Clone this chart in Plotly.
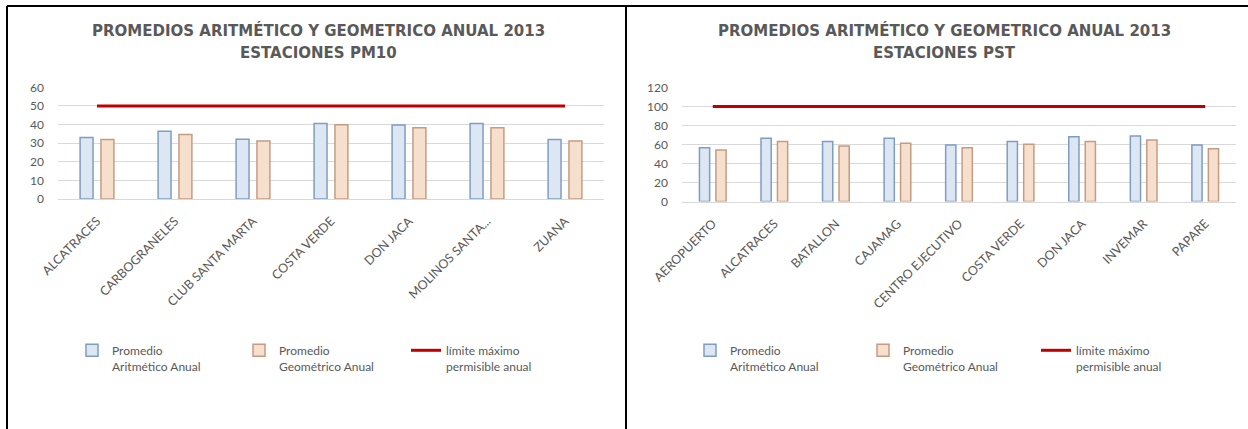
import plotly.graph_objects as go

# ---------------- data ----------------
pm10_estaciones = ["ALCATRACES", "CARBOGRANELES", "CLUB SANTA MARTA", "COSTA VERDE",
                   "DON JACA", "MOLINOS SANTA...", "ZUANA"]
pm10_aritmetico = [33, 36.4, 32.1, 40.6, 39.8, 40.6, 32.0]
pm10_geometrico = [32, 34.7, 31.1, 39.9, 38.3, 38.3, 31.1]
pm10_limite = 50

pst_estaciones = ["AEROPUERTO", "ALCATRACES", "BATALLON", "CAJAMAG", "CENTRO EJECUTIVO",
                  "COSTA VERDE", "DON JACA", "INVEMAR", "PAPARE"]
pst_aritmetico = [56.6, 66.5, 63.0, 66.5, 59.5, 63.0, 68.2, 69.0, 59.3]
pst_geometrico = [54.2, 63.0, 58.4, 61.3, 56.6, 60.2, 63.0, 64.7, 55.6]
pst_limite = 100

pm10_ticks = [0, 10, 20, 30, 40, 50, 60]
pst_ticks = [0, 20, 40, 60, 80, 100, 120]

titulo = "PROMEDIOS ARITMÉTICO Y GEOMETRICO ANUAL 2013"
sub_pm10 = "ESTACIONES PM10"
sub_pst = "ESTACIONES PST"
nombre_arit = "Promedio<br>Aritmético Anual"
nombre_geo = "Promedio<br>Geométrico Anual"
nombre_lim = "límite máximo<br>permisible anual"

# ---------------- style ----------------
W, H = 1248, 429
FONT = "Lato, sans-serif"
TFONT = "DejaVu Sans, sans-serif"
GREY = "#595959"
BLUE_FILL, BLUE_LINE = "#dce7f3", "#7f9dc2"
ORNG_FILL, ORNG_LINE = "#f7dfcd", "#c49c82"
RED = "#c00000"
GRID = "#d9d9d9"


def px_x(p):
    return p / W


def px_y(p):
    return 1 - p / H


fig = go.Figure()


def add_panel(cats, arit, geo, lim, xa, ya, leg):
    fig.add_trace(go.Bar(x=cats, y=arit, name=nombre_arit, xaxis=xa, yaxis=ya, legend=leg,
                         marker=dict(color=BLUE_FILL, line=dict(color=BLUE_LINE, width=1.5))))
    fig.add_trace(go.Bar(x=cats, y=geo, name=nombre_geo, xaxis=xa, yaxis=ya, legend=leg,
                         marker=dict(color=ORNG_FILL, line=dict(color=ORNG_LINE, width=1.5))))
    fig.add_trace(go.Scatter(x=cats, y=[lim] * len(cats), name=nombre_lim, mode="lines",
                             xaxis=xa, yaxis=ya, legend=leg,
                             line=dict(color=RED, width=3)))


add_panel(pm10_estaciones, pm10_aritmetico, pm10_geometrico, pm10_limite, "x", "y", "legend")
add_panel(pst_estaciones, pst_aritmetico, pst_geometrico, pst_limite, "x2", "y2", "legend2")

xcommon = dict(type="category", showgrid=False, showline=True, linecolor=GRID, linewidth=1,
               ticks="", tickangle=-45, tickfont=dict(family=FONT, size=12.5, color=GREY),
               zeroline=False, automargin=False, ticklabelstandoff=9)
ycommon = dict(showgrid=True, gridcolor=GRID, gridwidth=1, zeroline=False, showline=False,
               ticks="", tickfont=dict(family=FONT, size=12, color=GREY), ticklabelstandoff=13,
               automargin=False)

legcommon = dict(orientation="h", yanchor="top", xanchor="left", valign="top",
                 font=dict(family=FONT, size=12, color=GREY), bgcolor="rgba(0,0,0,0)",
                 itemwidth=30, traceorder="normal", entrywidthmode="pixels")

fig.update_layout(
    width=W, height=H, autosize=False,
    margin=dict(l=0, r=0, t=0, b=0, pad=0, autoexpand=False),
    paper_bgcolor="white", plot_bgcolor="white",
    barmode="group", bargap=0.465, bargroupgap=0.38,
    xaxis=dict(domain=[px_x(58), px_x(604)], anchor="y", **xcommon),
    yaxis=dict(domain=[px_y(199), px_y(87.3)], anchor="x", range=[0, 60],
               tickvals=pm10_ticks, **ycommon),
    xaxis2=dict(domain=[px_x(682), px_x(1236)], anchor="y2", **xcommon),
    yaxis2=dict(domain=[px_y(201.5), px_y(87.4)], anchor="x2", range=[0, 120],
                tickvals=pst_ticks, **ycommon),
    legend=dict(x=px_x(72), y=px_y(336), entrywidth=122, **legcommon),
    legend2=dict(x=px_x(690), y=px_y(336), entrywidth=128, **legcommon),
    showlegend=True,
)

# titles
tfont = dict(family=TFONT, size=15, color=GREY)
for xc, sub in [(318, sub_pm10), (944, sub_pst)]:
    fig.add_annotation(x=px_x(xc), y=px_y(31), xref="paper", yref="paper", text="<b>%s</b>" % titulo,
                       showarrow=False, font=tfont, xanchor="center", yanchor="middle")
    fig.add_annotation(x=px_x(xc), y=px_y(53), xref="paper", yref="paper", text="<b>%s</b>" % sub,
                       showarrow=False, font=tfont, xanchor="center", yanchor="middle")

# frame lines of the figure box
frame = dict(type="line", xref="paper", yref="paper", line=dict(color="black", width=2))
fig.add_shape(x0=px_x(7), x1=1, y0=px_y(6), y1=px_y(6), **frame)
fig.add_shape(x0=px_x(7), x1=px_x(7), y0=0, y1=px_y(6), **frame)
fig.add_shape(x0=px_x(626), x1=px_x(626), y0=0, y1=px_y(6), **frame)

fig.write_html("out.html", config={"displayModeBar": False},
               post_script="document.body.style.margin='0';document.body.style.overflow='hidden';")
